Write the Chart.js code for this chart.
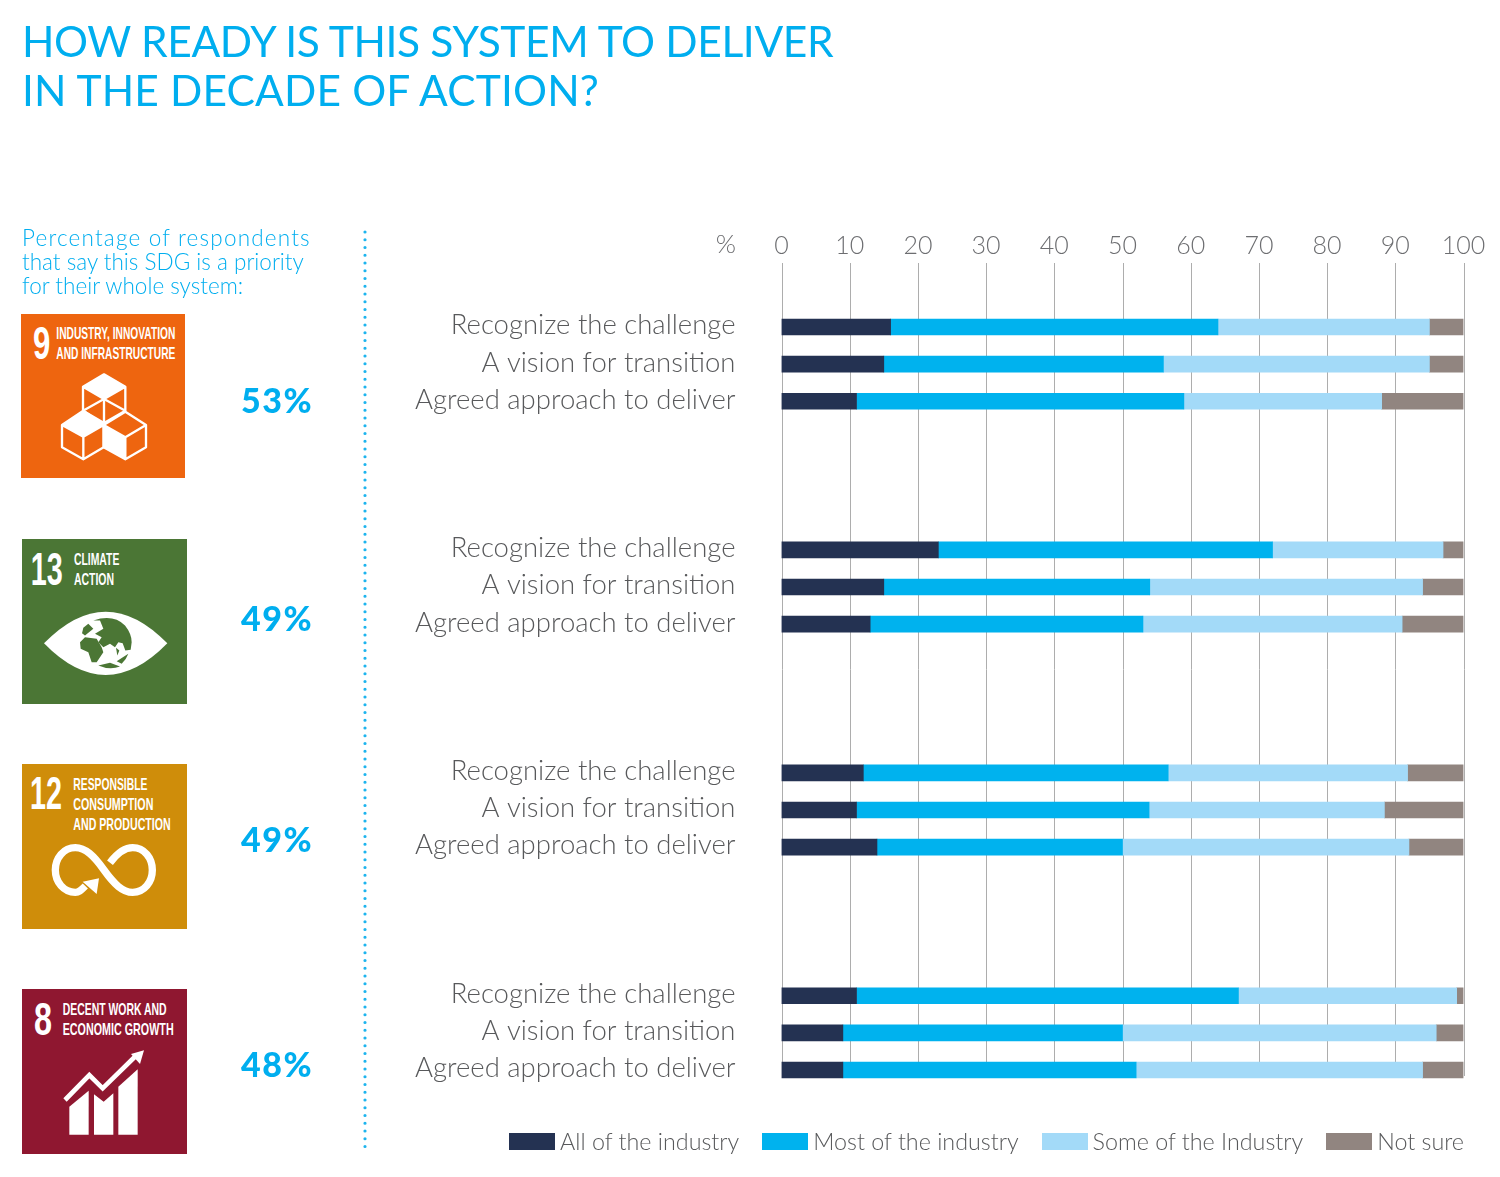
<!DOCTYPE html>
<html>
<head>
<meta charset="utf-8">
<title>How ready is this system to deliver</title>
<script src="https://cdn.jsdelivr.net/npm/chart.js@4"></script>
<style>
  html, body { margin: 0; padding: 0; background: #fff; }
  #page { position: relative; width: 1500px; height: 1177px; overflow: hidden; font-family: Lato, sans-serif; }
  #chart { position: absolute; left: 0; top: 0; }
  #page > div, #page > svg { position: absolute; }
  #title { left: 22px; top: 16px; color: #00aeef; font-size: 42.5px; line-height: 49px; white-space: nowrap; letter-spacing: -0.35px; }
  #title .wide { letter-spacing: 0.15px; }
  #intro { left: 22px; top: 226px; color: #00aeef; font-size: 22.5px; font-weight: 300; line-height: 24px; white-space: nowrap; }
  #intro .wide { letter-spacing: 1.2px; }
  .score { left: 222px; width: 110px; text-align: center; color: #00aeef; font-size: 34px; font-weight: 900; line-height: 40px; letter-spacing: 1.5px; }
  #percent { left: 700px; width: 36px; top: 227px; text-align: right; color: #6d6e71; font-size: 26px; font-weight: 300; line-height: 32px; }
  #legend { right: 36px; top: 1124px; height: 34px; display: flex; align-items: center; color: #58595b; font-size: 23.3px; font-weight: 300; white-space: nowrap; }
  #legend span.box { display: inline-block; width: 46px; height: 17px; margin-right: 5px; }
  #legend span.item { display: flex; align-items: center; margin-left: 23px; }
  .tile text { fill: #fff; font-family: "Liberation Sans Narrow", "Liberation Sans", sans-serif; font-weight: 700; }
  .tile .num { font-size: 136px; }
  .tile .cap { font-size: 50px; }
</style>
</head>
<body>
<div id="page">
  <canvas id="chart" width="1500" height="1177"></canvas>
  <div id="title">HOW READY IS THIS SYSTEM TO DELIVER<br><span class="wide">IN THE DECADE OF ACTION?</span></div>
  <div id="intro"><span class="wide">Percentage of respondents</span><br>that say this SDG is a priority<br>for their whole system:</div>
  <div id="percent">%</div>

  <svg style="left:360px;top:228px" width="10" height="930">
    <line x1="5" y1="4" x2="5" y2="924" stroke="#1db4ee" stroke-width="3.2" stroke-linecap="round" stroke-dasharray="0 7.75"/>
  </svg>

  <!-- SDG 9 -->
  <svg class="tile" style="left:21px;top:314px" width="164" height="164" viewBox="0 0 492 492">
    <rect width="492" height="492" fill="#ee650f"/>
    <text class="num" x="36" y="136" textLength="52" lengthAdjust="spacingAndGlyphs">9</text>
    <text class="cap" x="106" y="76" textLength="357" lengthAdjust="spacingAndGlyphs">INDUSTRY, INNOVATION</text>
    <text class="cap" x="106" y="135" textLength="357" lengthAdjust="spacingAndGlyphs">AND INFRASTRUCTURE</text>
    <g fill="none" stroke="#fff" stroke-width="7" stroke-linejoin="round">
      <path d="M249 181 L313 218 V290 L249 327 L186 290 V218 Z M186 218 L249 255 L313 218 M249 255 V327 M186 290 L249 255 L313 290"/>
      <path d="M187 290 L123 333 V400 L187 436 L248 400 V333 Z M123 333 L187 368 L248 333 M187 368 V436"/>
      <path d="M313 293 L248 333 V400 L313 436 L375 400 V333 Z M248 333 L313 370 L375 333 M313 370 V436"/>
    </g>
    <polygon fill="#fff" points="123,333 187,290 248,333 187,368"/>
    <polygon fill="#fff" points="249,181 313,218 249,255 186,218"/>
    <polygon fill="#fff" points="248,333 313,370 313,436 248,400"/>
  </svg>

  <!-- SDG 13 -->
  <svg class="tile" style="left:22px;top:538.5px" width="165" height="165" viewBox="0 0 495 495">
    <rect width="495" height="495" fill="#4b7635"/>
    <text class="num" x="26" y="137" textLength="96" lengthAdjust="spacingAndGlyphs">13</text>
    <text class="cap" x="156" y="77" textLength="136" lengthAdjust="spacingAndGlyphs">CLIMATE</text>
    <text class="cap" x="156" y="137" textLength="120" lengthAdjust="spacingAndGlyphs">ACTION</text>
    <path fill="#fff" d="M66 313 Q251 123 436 313 Q251 503 66 313 Z"/>
    <!-- continentes, desenhados à mão a partir do ícone -->
    <g fill="#4b7635" transform="translate(114 184.5)">
      <path d="M100 60 Q160 40 195 75 Q215 100 215 125 L212 148 L196 150 L188 128 L175 125 L165 140 L150 130 L130 140 L115 125 L125 110 L105 100 L130 85 L120 60 Z"/>
      <path d="M60 125 L75 110 L110 115 L125 140 L130 155 L110 185 L95 185 L85 155 L62 145 Z"/>
      <path d="M70 82 L85 70 L100 85 L75 105 L66 98 Z"/>
      <path d="M168 142 L178 150 L172 165 Z"/>
      <path d="M170 182 L205 160 Q200 175 185 190 Z"/>
      <path d="M115 195 L150 187 L180 198 Q150 210 115 195 Z"/>
    </g>
  </svg>

  <!-- SDG 12 -->
  <svg class="tile" style="left:22px;top:764px" width="165" height="165" viewBox="0 0 495 495">
    <rect width="495" height="495" fill="#cf8d0a"/>
    <text class="num" x="24" y="136" textLength="96" lengthAdjust="spacingAndGlyphs">12</text>
    <text class="cap" x="154" y="78" textLength="222" lengthAdjust="spacingAndGlyphs">RESPONSIBLE</text>
    <text class="cap" x="154" y="138" textLength="240" lengthAdjust="spacingAndGlyphs">CONSUMPTION</text>
    <text class="cap" x="154" y="198" textLength="292" lengthAdjust="spacingAndGlyphs">AND PRODUCTION</text>
    <g fill="none" stroke="#fff" stroke-width="22">
      <path d="M190 366 C176 380 170 385 160 385 C125 385 100 354 100 318 C100 282 125 251 160 251 C190 251 215 275 246 318 C277 361 302 385 332 385 C367 385 391 354 391 318 C391 282 367 251 332 251 C304 251 284 270 264 296"/>
    </g>
    <polygon fill="#fff" points="231,343 182,353 224,390"/>
  </svg>

  <!-- SDG 8 -->
  <svg class="tile" style="left:22px;top:989px" width="165" height="165" viewBox="0 0 495 495">
    <rect width="495" height="495" fill="#8f1730"/>
    <text class="num" x="36" y="138" textLength="54" lengthAdjust="spacingAndGlyphs">8</text>
    <text class="cap" x="122" y="78" textLength="312" lengthAdjust="spacingAndGlyphs">DECENT WORK AND</text>
    <text class="cap" x="122" y="138" textLength="333" lengthAdjust="spacingAndGlyphs">ECONOMIC GROWTH</text>
    <polygon fill="#fff" points="142,353 200,305 200,437 142,437"/>
    <polygon fill="#fff" points="216,316 245,338 274,313 274,437 216,437"/>
    <polygon fill="#fff" points="289,293 347,241 347,437 289,437"/>
    <polyline fill="none" stroke="#fff" stroke-width="14" points="129,333 202,258 242,298 338,204"/>
    <polygon fill="#fff" points="366,184 327,195 354,225"/>
  </svg>

  <div id="legend"></div>
</div>

<script>
// Valores, uma linha por barra; linhas vazias separam os grupos.
const categories = [
  "Recognize the challenge", "A vision for transition", "Agreed approach to deliver", "", "", "",
  "Recognize the challenge", "A vision for transition", "Agreed approach to deliver", "", "", "",
  "Recognize the challenge", "A vision for transition", "Agreed approach to deliver", "", "", "",
  "Recognize the challenge", "A vision for transition", "Agreed approach to deliver",
];
const allIndustry = [16, 15, 11, null, null, null, 23, 15, 13, null, null, null, 12, 11, 14, null, null, null, 11, 9, 9];
const mostIndustry = [48, 41, 48, null, null, null, 49, 39, 40, null, null, null, 44.7, 42.9, 36, null, null, null, 56, 41, 43];
const someIndustry = [31, 39, 29, null, null, null, 25, 40, 38, null, null, null, 35.1, 34.5, 42, null, null, null, 32, 46, 42];
const notSure = [5, 5, 12, null, null, null, 3, 6, 9, null, null, null, 8.2, 11.6, 8, null, null, null, 1, 4, 6];

const seriesNames = ["All of the industry", "Most of the industry", "Some of the Industry", "Not sure"];
const seriesColors = ["#243252", "#00b2ee", "#a3daf8", "#918580"];
const xTicks = [0, 10, 20, 30, 40, 50, 60, 70, 80, 90, 100];

const sdgScores = ["53%", "49%", "49%", "48%"];
const scoreTops = [380, 598, 819, 1044];

const page = document.getElementById("page");
sdgScores.forEach((score, i) => {
  const el = document.createElement("div");
  el.className = "score";
  el.style.top = scoreTops[i] + "px";
  el.textContent = score;
  page.appendChild(el);
});

// Legenda em HTML: o espaço entre caixa e texto da legenda nativa é fixo.
const legend = document.getElementById("legend");
seriesNames.forEach((name, i) => {
  const item = document.createElement("span");
  item.className = "item";
  const box = document.createElement("span");
  box.className = "box";
  box.style.background = seriesColors[i];
  item.appendChild(box);
  item.appendChild(document.createTextNode(name));
  legend.appendChild(item);
});

// As linhas de grade começam acima da primeira barra e param na última.
const gridLines = {
  id: "gridLines",
  beforeDatasetsDraw(chart) {
    const { ctx, scales } = chart;
    ctx.save();
    ctx.strokeStyle = "#adadad";
    ctx.lineWidth = 1;
    xTicks.forEach((value) => {
      const x = Math.round(scales.x.getPixelForValue(value)) + 0.5;
      ctx.beginPath();
      ctx.moveTo(x, 263);
      ctx.lineTo(x, 1076);
      ctx.stroke();
    });
    ctx.restore();
  },
};

const values = [allIndustry, mostIndustry, someIndustry, notSure];

new Chart(document.getElementById("chart"), {
  type: "bar",
  data: {
    labels: categories,
    datasets: seriesNames.map((name, i) => ({
      label: name,
      data: values[i],
      backgroundColor: seriesColors[i],
      borderWidth: 0,
      barThickness: 16,
    })),
  },
  options: {
    indexAxis: "y",
    responsive: false,
    animation: false,
    layout: { padding: { top: 0, left: 0, right: 36.5, bottom: 88.4 } },
    plugins: { legend: { display: false }, tooltip: { enabled: false } },
    scales: {
      x: {
        position: "top",
        stacked: true,
        min: 0,
        max: 100,
        afterBuildTicks: (scale) => {
          scale.ticks = xTicks.map((value) => ({ value }));
        },
        afterFit: (scale) => {
          scale.height = 308.4;
          scale.paddingLeft = 0;
          scale.paddingRight = 0;
        },
        border: { display: false },
        grid: { display: false },
        ticks: {
          maxRotation: 0,
          padding: 39,
          color: "#6d6e71",
          font: { family: "Lato", size: 25, weight: "300" },
        },
      },
      y: {
        stacked: true,
        afterFit: (scale) => {
          scale.width = 781.5;
        },
        border: { display: false },
        grid: { display: false },
        ticks: {
          autoSkip: false,
          padding: 38,
          color: "#58595b",
          // segunda linha vazia sobe o rótulo 1,5px em relação à barra
          callback(value) {
            return [this.getLabelForValue(value), ""];
          },
          font: { family: "Lato", size: 27.5, weight: "300", lineHeight: "3px" },
        },
      },
    },
  },
  plugins: [gridLines],
});
</script>
</body>
</html>
